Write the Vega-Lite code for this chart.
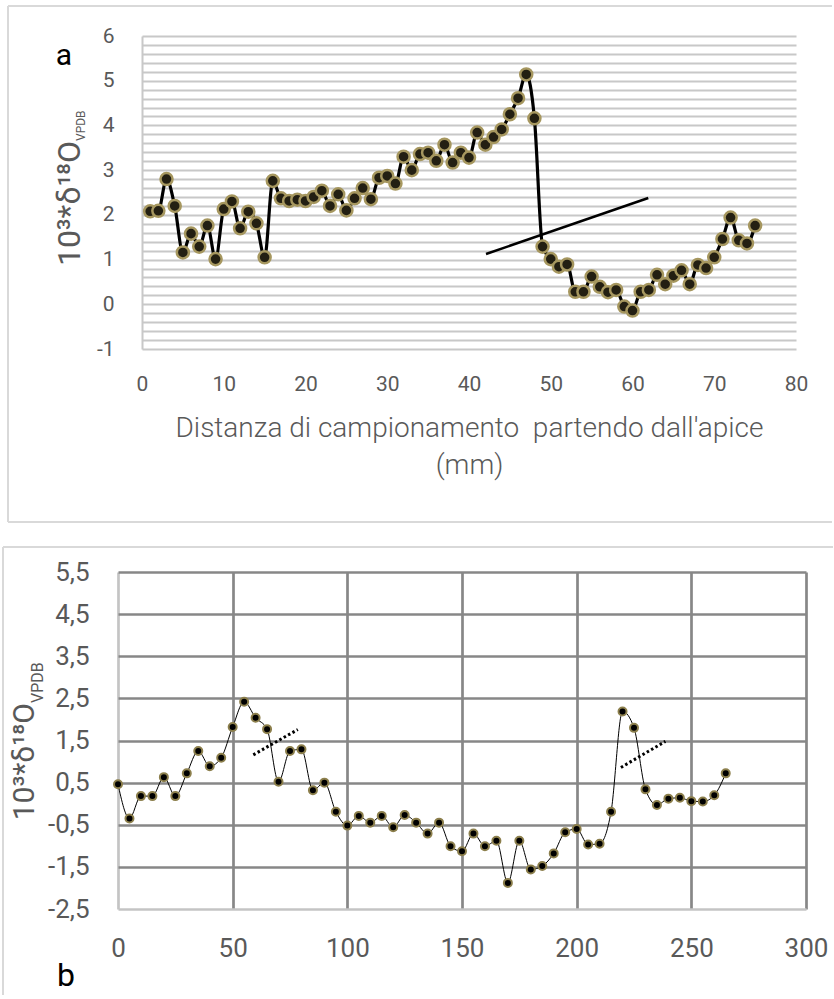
{
  "$schema": "https://vega.github.io/schema/vega-lite/v6.json",
  "padding": {"top": 5, "left": 0, "right": 0, "bottom": 0},
  "background": "white",
  "config": {"view": {"stroke": null}, "font": "Roboto"},
  "datasets": {
    "a": [
      {"d": 1, "v": 2.08}, {"d": 2, "v": 2.09}, {"d": 3, "v": 2.80}, {"d": 4, "v": 2.20}, {"d": 5, "v": 1.16},
      {"d": 6, "v": 1.58}, {"d": 7, "v": 1.29}, {"d": 8, "v": 1.76}, {"d": 9, "v": 1.01}, {"d": 10, "v": 2.13},
      {"d": 11, "v": 2.30}, {"d": 12, "v": 1.70}, {"d": 13, "v": 2.07}, {"d": 14, "v": 1.81}, {"d": 15, "v": 1.05},
      {"d": 16, "v": 2.76}, {"d": 17, "v": 2.37}, {"d": 18, "v": 2.31}, {"d": 19, "v": 2.34}, {"d": 20, "v": 2.31},
      {"d": 21, "v": 2.40}, {"d": 22, "v": 2.54}, {"d": 23, "v": 2.20}, {"d": 24, "v": 2.46}, {"d": 25, "v": 2.10},
      {"d": 26, "v": 2.37}, {"d": 27, "v": 2.60}, {"d": 28, "v": 2.35}, {"d": 29, "v": 2.83}, {"d": 30, "v": 2.87},
      {"d": 31, "v": 2.70}, {"d": 32, "v": 3.30}, {"d": 33, "v": 3.00}, {"d": 34, "v": 3.36}, {"d": 35, "v": 3.39},
      {"d": 36, "v": 3.21}, {"d": 37, "v": 3.57}, {"d": 38, "v": 3.17}, {"d": 39, "v": 3.39}, {"d": 40, "v": 3.28},
      {"d": 41, "v": 3.84}, {"d": 42, "v": 3.57}, {"d": 43, "v": 3.74}, {"d": 44, "v": 3.91}, {"d": 45, "v": 4.25},
      {"d": 46, "v": 4.61}, {"d": 47, "v": 5.14}, {"d": 48, "v": 4.16}, {"d": 49, "v": 1.29}, {"d": 50, "v": 1.01},
      {"d": 51, "v": 0.84}, {"d": 52, "v": 0.89}, {"d": 53, "v": 0.28}, {"d": 54, "v": 0.28}, {"d": 55, "v": 0.62},
      {"d": 56, "v": 0.39}, {"d": 57, "v": 0.27}, {"d": 58, "v": 0.32}, {"d": 59, "v": -0.05}, {"d": 60, "v": -0.14},
      {"d": 61, "v": 0.28}, {"d": 62, "v": 0.32}, {"d": 63, "v": 0.66}, {"d": 64, "v": 0.45}, {"d": 65, "v": 0.64},
      {"d": 66, "v": 0.76}, {"d": 67, "v": 0.45}, {"d": 68, "v": 0.88}, {"d": 69, "v": 0.81}, {"d": 70, "v": 1.05},
      {"d": 71, "v": 1.46}, {"d": 72, "v": 1.94}, {"d": 73, "v": 1.43}, {"d": 74, "v": 1.36}, {"d": 75, "v": 1.76}
    ],
    "b": [
      {"d": 0, "v": 0.46}, {"d": 5, "v": -0.35}, {"d": 10, "v": 0.18}, {"d": 15, "v": 0.18}, {"d": 20, "v": 0.63},
      {"d": 25, "v": 0.18}, {"d": 30, "v": 0.72}, {"d": 35, "v": 1.25}, {"d": 40, "v": 0.89}, {"d": 45, "v": 1.09},
      {"d": 50, "v": 1.82}, {"d": 55, "v": 2.42}, {"d": 60, "v": 2.04}, {"d": 65, "v": 1.77}, {"d": 70, "v": 0.52},
      {"d": 75, "v": 1.25}, {"d": 80, "v": 1.29}, {"d": 85, "v": 0.32}, {"d": 90, "v": 0.50}, {"d": 95, "v": -0.19},
      {"d": 100, "v": -0.52}, {"d": 105, "v": -0.29}, {"d": 110, "v": -0.45}, {"d": 115, "v": -0.29}, {"d": 120, "v": -0.56},
      {"d": 125, "v": -0.27}, {"d": 130, "v": -0.45}, {"d": 135, "v": -0.71}, {"d": 140, "v": -0.45}, {"d": 145, "v": -1.01},
      {"d": 150, "v": -1.13}, {"d": 155, "v": -0.71}, {"d": 160, "v": -1.01}, {"d": 165, "v": -0.88}, {"d": 170, "v": -1.88},
      {"d": 175, "v": -0.88}, {"d": 180, "v": -1.56}, {"d": 185, "v": -1.48}, {"d": 190, "v": -1.18}, {"d": 195, "v": -0.68},
      {"d": 200, "v": -0.60}, {"d": 205, "v": -0.97}, {"d": 210, "v": -0.95}, {"d": 215, "v": -0.19}, {"d": 220, "v": 2.19},
      {"d": 225, "v": 1.80}, {"d": 230, "v": 0.34}, {"d": 235, "v": -0.03}, {"d": 240, "v": 0.12}, {"d": 245, "v": 0.14},
      {"d": 250, "v": 0.06}, {"d": 255, "v": 0.05}, {"d": 260, "v": 0.20}, {"d": 265, "v": 0.72}
    ],
    "apertura_a": [{"d": 42.08, "v": 1.125}, {"d": 61.93, "v": 2.377}],
    "apertura_b": [
      {"s": 1, "d": 59.0, "v": 1.16}, {"s": 1, "d": 78.4, "v": 1.76},
      {"s": 2, "d": 219.3, "v": 0.86}, {"s": 2, "d": 238.7, "v": 1.48}
    ]
  },
  "concat": [
    {"width": 1, "height": 1, "data": {"values": []}, "mark": {"type": "point", "opacity": 0}},
    {
      "width": 654,
      "height": 313,
      "layer": [
        {
          "data": {"name": "a"},
          "mark": {"type": "line", "color": "black", "strokeWidth": 3.2, "interpolate": "monotone"},
          "encoding": {
            "x": {
              "field": "d", "type": "quantitative",
              "scale": {"domain": [0, 80], "nice": false, "zero": false},
              "axis": {
                "values": [0, 10, 20, 30, 40, 50, 60, 70, 80], "tickCount": 20,
                "grid": false, "domain": false, "ticks": false,
                "labelFlush": false, "labelOverlap": false,
                "labelPadding": 24, "labelFontSize": 21, "labelColor": "#595959", "labelFont": "Roboto",
                "title": ["Distanza di campionamento \u00a0partendo dall'apice", "(mm)"],
                "titleFont": "Roboto", "titleFontWeight": 300, "titleFontSize": 28, "titleColor": "#595959",
                "titlePadding": 20, "titleLineHeight": 37
              }
            },
            "y": {
              "field": "v", "type": "quantitative",
              "scale": {"domain": [-1, 6], "nice": false, "zero": false},
              "axis": {
                "values": [-1, -0.8, -0.6, -0.4, -0.2, 0, 0.2, 0.4, 0.6, 0.8, 1, 1.2, 1.4, 1.6, 1.8, 2, 2.2, 2.4, 2.6, 2.8, 3, 3.2, 3.4, 3.6, 3.8, 4, 4.2, 4.4, 4.6, 4.8, 5, 5.2, 5.4, 5.6, 5.8, 6],
                "tickCount": 40,
                "grid": true, "gridColor": "#c8c8c8", "gridWidth": 1.8,
                "domain": true, "domainColor": "#c8c8c8", "domainWidth": 2,
                "ticks": false, "labelOverlap": false, "labelFlush": false,
                "labelExpr": "abs(datum.value - round(datum.value)) < 0.01 ? toString(round(datum.value)) : ''",
                "labelPadding": 28, "labelFontSize": 21, "labelColor": "#595959", "labelFont": "Roboto",
                "title": null
              }
            }
          }
        },
        {
          "data": {"name": "a"},
          "mark": {"type": "circle", "fill": "#231f12", "stroke": "#a6975f", "strokeWidth": 2.5, "size": 145, "opacity": 1},
          "encoding": {
            "x": {"field": "d", "type": "quantitative"},
            "y": {"field": "v", "type": "quantitative"}
          }
        },
        {
          "data": {"name": "apertura_a"},
          "mark": {"type": "line", "color": "black", "strokeWidth": 2.5},
          "encoding": {
            "x": {"field": "d", "type": "quantitative"},
            "y": {"field": "v", "type": "quantitative"}
          }
        },
        {
          "data": {"values": [{}]},
          "mark": {"type": "rule", "color": "#d9d9d9", "strokeWidth": 2},
          "encoding": {
            "x": {"datum": -16.39, "type": "quantitative"},
            "x2": {"datum": 84.40},
            "y": {"datum": 6.67, "type": "quantitative"}
          }
        },
        {
          "data": {"values": [{}]},
          "mark": {"type": "rule", "color": "#d9d9d9", "strokeWidth": 2},
          "encoding": {
            "x": {"datum": -16.39, "type": "quantitative"},
            "x2": {"datum": 84.40},
            "y": {"datum": -4.869, "type": "quantitative"}
          }
        },
        {
          "data": {"values": [{}]},
          "mark": {"type": "rule", "color": "#d9d9d9", "strokeWidth": 2},
          "encoding": {
            "x": {"datum": -16.39, "type": "quantitative"},
            "y": {"datum": 6.67, "type": "quantitative"},
            "y2": {"datum": -4.869}
          }
        },
        {
          "data": {"values": [{}]},
          "mark": {"type": "rule", "color": "white", "strokeOpacity": 0, "strokeWidth": 1},
          "encoding": {
            "x": {"datum": -17.19, "type": "quantitative"},
            "y": {"datum": 6.67, "type": "quantitative"},
            "y2": {"datum": -4.869}
          }
        },
        {
          "data": {"values": [{}]},
          "mark": {"type": "text", "text": "a", "font": "Roboto", "fontSize": 30, "color": "black", "align": "center", "baseline": "alphabetic"},
          "encoding": {
            "x": {"datum": -9.541, "type": "quantitative"},
            "y": {"datum": 5.351, "type": "quantitative"}
          }
        },
        {
          "data": {"values": [{}]},
          "mark": {"type": "text", "text": "10³*δ¹⁸O", "font": "Roboto", "fontSize": 32, "color": "#595959", "angle": 270, "align": "right", "baseline": "alphabetic"},
          "encoding": {
            "x": {"datum": -7.584, "type": "quantitative"},
            "y": {"datum": 3.652, "type": "quantitative"}
          }
        },
        {
          "data": {"values": [{}]},
          "mark": {"type": "text", "text": "VPDB", "font": "Roboto", "fontSize": 12, "color": "#595959", "angle": 270, "align": "left", "baseline": "alphabetic", "dy": 5},
          "encoding": {
            "x": {"datum": -7.584, "type": "quantitative"},
            "y": {"datum": 3.652, "type": "quantitative"}
          }
        }
      ]
    },
    {"width": 1, "height": 1, "data": {"values": []}, "mark": {"type": "point", "opacity": 0}},
    {
      "width": 688,
      "height": 337,
      "layer": [
        {
          "data": {"name": "b"},
          "mark": {"type": "line", "color": "black", "strokeWidth": 1, "interpolate": "monotone"},
          "encoding": {
            "x": {
              "field": "d", "type": "quantitative",
              "scale": {"domain": [0, 300], "nice": false, "zero": false},
              "axis": {
                "values": [0, 50, 100, 150, 200, 250, 300], "tickCount": 20,
                "grid": true,
                "gridColor": {"condition": {"test": "datum.value == 0", "value": "#c4c4c4"}, "value": "#878787"},
                "gridWidth": 2.7,
                "domain": false, "ticks": false, "labelFlush": false, "labelOverlap": false,
                "labelPadding": 26, "labelFontSize": 26, "labelColor": "#595959", "labelFont": "Roboto",
                "title": null
              }
            },
            "y": {
              "field": "v", "type": "quantitative",
              "scale": {"domain": [-2.5, 5.5], "nice": false, "zero": false},
              "axis": {
                "values": [-2.5, -1.5, -0.5, 0.5, 1.5, 2.5, 3.5, 4.5, 5.5], "tickCount": 20,
                "grid": true,
                "gridColor": {"condition": {"test": "datum.value == -2.5", "value": "#c4c4c4"}, "value": "#878787"},
                "gridWidth": 2.7,
                "domain": false, "ticks": false, "labelFlush": false, "labelOverlap": false,
                "labelExpr": "replace(toString(datum.value), '.', ',')",
                "labelPadding": 29, "labelFontSize": 26, "labelColor": "#595959", "labelFont": "Roboto",
                "title": null
              }
            }
          }
        },
        {
          "data": {"name": "b"},
          "mark": {"type": "circle", "fill": "black", "stroke": "#8c7f4c", "strokeWidth": 2, "size": 64, "opacity": 1},
          "encoding": {
            "x": {"field": "d", "type": "quantitative"},
            "y": {"field": "v", "type": "quantitative"}
          }
        },
        {
          "data": {"name": "apertura_b"},
          "mark": {"type": "line", "color": "black", "strokeWidth": 3, "strokeDash": [2.5, 2.5]},
          "encoding": {
            "x": {"field": "d", "type": "quantitative"},
            "y": {"field": "v", "type": "quantitative"},
            "detail": {"field": "s", "type": "nominal"}
          }
        },
        {
          "data": {"values": [{}]},
          "mark": {"type": "rule", "color": "#d9d9d9", "strokeWidth": 2},
          "encoding": {
            "x": {"datum": -50.15, "type": "quantitative"},
            "x2": {"datum": 311.78},
            "y": {"datum": 6.0935, "type": "quantitative"}
          }
        },
        {
          "data": {"values": [{}]},
          "mark": {"type": "rule", "color": "#d9d9d9", "strokeWidth": 2},
          "encoding": {
            "x": {"datum": -50.15, "type": "quantitative"},
            "y": {"datum": 6.0935, "type": "quantitative"},
            "y2": {"datum": -4.5415}
          }
        },
        {
          "data": {"values": [{}]},
          "mark": {"type": "text", "text": "b", "font": "Roboto", "fontSize": 32, "color": "black", "align": "center", "baseline": "alphabetic"},
          "encoding": {
            "x": {"datum": -22.67, "type": "quantitative"},
            "y": {"datum": -4.328, "type": "quantitative"}
          }
        },
        {
          "data": {"values": [{}]},
          "mark": {"type": "text", "text": "10³*δ¹⁸O", "font": "Roboto", "fontSize": 30, "color": "#595959", "angle": 270, "align": "right", "baseline": "alphabetic"},
          "encoding": {
            "x": {"datum": -36.63, "type": "quantitative"},
            "y": {"datum": 2.39, "type": "quantitative"}
          }
        },
        {
          "data": {"values": [{}]},
          "mark": {"type": "text", "text": "VPDB", "font": "Roboto", "fontSize": 16, "color": "#595959", "angle": 270, "align": "left", "baseline": "alphabetic", "dy": 9},
          "encoding": {
            "x": {"datum": -36.63, "type": "quantitative"},
            "y": {"datum": 2.39, "type": "quantitative"}
          }
        }
      ]
    }
  ],
  "columns": 2,
  "align": "none",
  "bounds": "full",
  "spacing": {"row": 22, "column": 0}
}
